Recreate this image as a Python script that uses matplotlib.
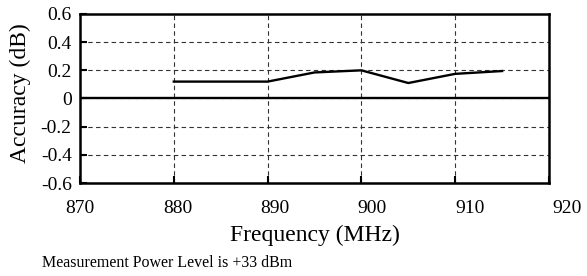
import matplotlib
matplotlib.use("Agg")
import matplotlib.pyplot as plt

freq = [880, 890, 895, 900, 905, 910, 915]
accuracy = [0.12, 0.12, 0.185, 0.2, 0.11, 0.175, 0.195]
xticks = [870, 880, 890, 900, 910, 920]
yticks = [-0.6, -0.4, -0.2, 0, 0.2, 0.4, 0.6]
ylabels = ["-0.6", "-0.4", "-0.2", "0", "0.2", "0.4", "0.6"]

plt.rcParams["font.family"] = ["Liberation Serif", "DejaVu Serif"]

fig = plt.figure(figsize=(5.87, 2.76), dpi=100)
ax = fig.add_axes([80 / 587, 1 - 183 / 276, 469 / 587, 169 / 276])

ax.plot(freq, accuracy, color="black", lw=1.7)
ax.axhline(0, color="black", lw=1.7)

ax.set_xlim(870, 920)
ax.set_ylim(-0.6, 0.6)
ax.set_xticks(xticks)
ax.set_yticks(yticks)
ax.set_yticklabels(ylabels)
ax.grid(True, ls=(0, (4, 3)), color="#333333", lw=0.8)
ax.tick_params(direction="in", length=5, width=1.5, labelsize=14)
ax.tick_params(axis="y", pad=6)
for s in ax.spines.values():
    s.set_linewidth(1.8)

# tick labels in the original drift a bit to the right of the gridlines
ax.set_xticklabels([])
stretch = 98.2 / 94.5
for v in xticks:
    ax.text(870 + (v - 870) * stretch, -0.10, str(v), transform=ax.get_xaxis_transform(),
            ha="center", va="top", fontsize=14, clip_on=False)

ax.set_xlabel("Frequency (MHz)", fontsize=17)
ax.xaxis.set_label_coords(0.5, -0.245)
ax.set_ylabel("Accuracy (dB)", fontsize=17)
ax.yaxis.set_label_coords(-0.104, 0.533)

fig.text(42 / 587, 1 - 263 / 276, "Measurement Power Level is +33 dBm", fontsize=11.5, va="center")

fig.savefig("out.png", dpi=100)
